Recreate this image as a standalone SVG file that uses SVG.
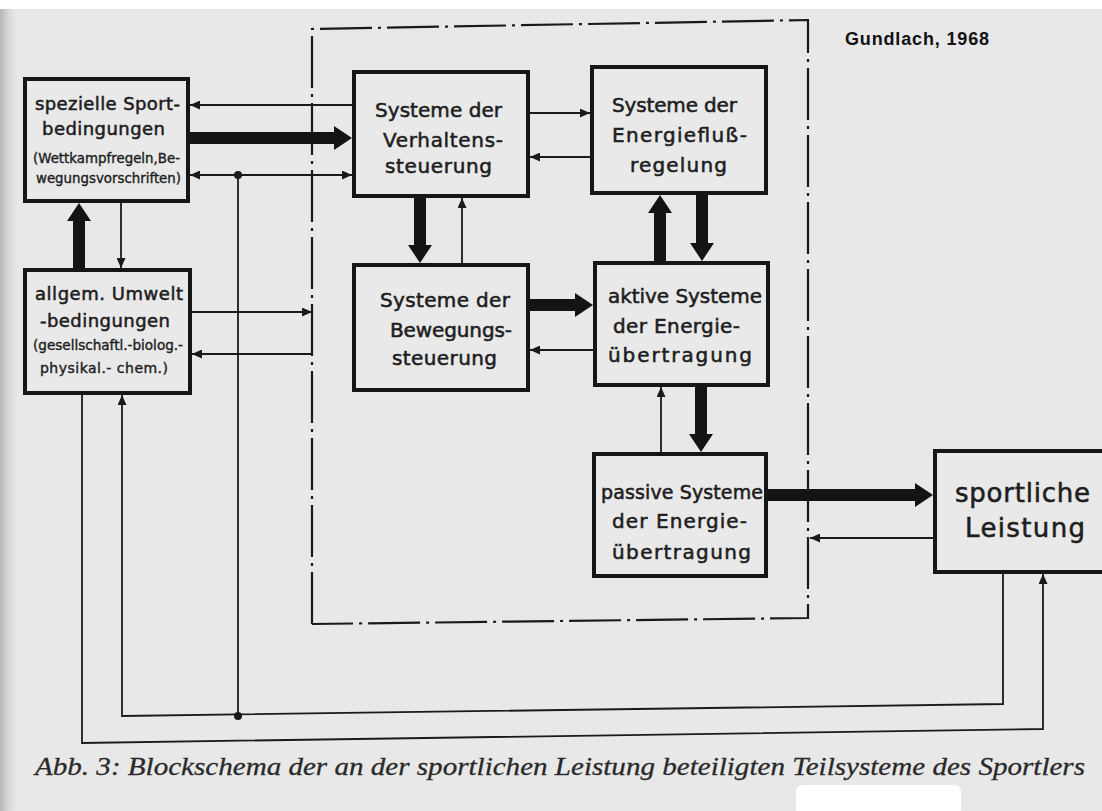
<svg xmlns="http://www.w3.org/2000/svg" width="1102" height="811" viewBox="0 0 1102 811">
  <defs>
    <linearGradient id="edge" x1="0" y1="0" x2="1" y2="0">
      <stop offset="0" stop-color="#b4b4b4"/>
      <stop offset="1" stop-color="#e8e8e8" stop-opacity="0"/>
    </linearGradient>
    <!-- small filled head for thin signal lines; tip sits on the line end -->
    <marker id="thinHead" viewBox="0 0 10 9" refX="10" refY="4.5" markerWidth="10" markerHeight="9" markerUnits="userSpaceOnUse" orient="auto-start-reverse">
      <path d="M0,0 L10,4.5 L0,9 Z" fill="#1a1a1a"/>
    </marker>
    <!-- large head for the energy/main flow arrows; tip 16px past the line end -->
    <marker id="thickHead" viewBox="0 0 18 24" refX="2" refY="12" markerWidth="18" markerHeight="24" markerUnits="userSpaceOnUse" orient="auto">
      <path d="M0,0 L18,12 L0,24 Z" fill="#141414"/>
    </marker>
  </defs>
  <style>
    .box { fill: #e9e9e9; stroke: #161616; stroke-width: 4; }
    .lbl { font-family: "DejaVu Sans", "Liberation Sans", sans-serif; fill: #1e1e1e; stroke: #1e1e1e; stroke-width: 0.55; }
    .f20 { font-size: 20px; }
    .f17 { font-size: 18px; }
    .f13 { font-size: 14px; stroke-width: 0.4; }
    .f26 { font-size: 26px; }
    .thin { fill: none; stroke: #1a1a1a; stroke-width: 1.8; marker-end: url(#thinHead); }
    .plain { fill: none; stroke: #1a1a1a; stroke-width: 1.8; }
    .thick { fill: none; stroke: #141414; stroke-width: 12; marker-end: url(#thickHead); }
    .frame { fill: none; stroke: #1a1a1a; stroke-width: 2.2; stroke-dasharray: 52 6 3 6; }
  </style>

  <!-- paper -->
  <rect x="0" y="0" width="1102" height="811" fill="#e8e8e8"/>
  <rect x="0" y="9" width="20" height="802" fill="url(#edge)"/>
  <rect x="0" y="0" width="1102" height="9" fill="#ffffff"/>
  <rect x="796" y="785" width="165" height="30" rx="6" fill="#ffffff"/>

  <!-- system boundary of the athlete -->
  <path class="frame" d="M312,624 V29 L808,20 V618 L312,624"/>

  <text x="845" y="45" font-family="Liberation Sans, Arial, sans-serif" font-weight="bold" font-size="18" fill="#111" textLength="144" lengthAdjust="spacing">Gundlach, 1968</text>

  <g id="connectors">
    <!-- top row / left column -->
    <path class="thin" d="M352,105 H190"/>
    <path class="thick" d="M190,138 H336"/>
    <path class="thin" d="M190,175 H352" style="marker-start:url(#thinHead)"/>
    <path class="thick" d="M79,268 V219"/>
    <path class="thin" d="M121,203 V268"/>
    <path class="thin" d="M192,312 H312"/>
    <path class="thin" d="M312,354 H192"/>
    <path class="thin" d="M530,113 H590"/>
    <path class="thin" d="M590,157 H530"/>
    <!-- middle row -->
    <path class="thick" d="M420,198 V247"/>
    <path class="thin" d="M462,263 V198"/>
    <path class="thick" d="M530,305 H577"/>
    <path class="thin" d="M593,350 H530"/>
    <path class="thick" d="M660,261 V211"/>
    <path class="thick" d="M702,195 V245"/>
    <!-- lower row -->
    <path class="thin" d="M661,452 V387"/>
    <path class="thick" d="M701,387 V436"/>
    <path class="thick" d="M768,495 H917"/>
    <path class="thin" d="M933,538 H810"/>
    <!-- feedback loops -->
    <path class="thin" d="M1003,574 V704 L122,716 V395"/>
    <path class="thin" d="M82,395 V743 L1043,729 V574"/>
    <path class="plain" d="M238,175 V716"/>
    <circle cx="238" cy="175" r="4" fill="#1a1a1a"/>
    <circle cx="238" cy="716" r="4" fill="#1a1a1a"/>
  </g>

  <g id="n-sportbedingungen">
    <rect class="box" x="25" y="79" width="163" height="122"/>
    <text class="lbl f17" x="35" y="110" textLength="145" lengthAdjust="spacing">spezielle Sport-</text>
    <text class="lbl f17" x="42" y="135" textLength="123" lengthAdjust="spacing">bedingungen</text>
    <text class="lbl f13" x="33" y="163" textLength="147" lengthAdjust="spacingAndGlyphs">(Wettkampfregeln,Be-</text>
    <text class="lbl f13" x="36" y="183" textLength="145" lengthAdjust="spacingAndGlyphs">wegungsvorschriften)</text>
  </g>

  <g id="n-umweltbedingungen">
    <rect class="box" x="25" y="270" width="165" height="123"/>
    <text class="lbl f17" x="35" y="300" textLength="148" lengthAdjust="spacing">allgem. Umwelt</text>
    <text class="lbl f17" x="40" y="327" textLength="130" lengthAdjust="spacing">-bedingungen</text>
    <text class="lbl f13" x="33" y="350" textLength="150" lengthAdjust="spacingAndGlyphs">(gesellschaftl.-biolog.-</text>
    <text class="lbl f13" x="40" y="373" textLength="128" lengthAdjust="spacing">physikal.- chem.)</text>
  </g>

  <g id="n-verhaltenssteuerung">
    <rect class="box" x="354" y="72" width="174" height="124"/>
    <text class="lbl f20" x="375" y="117" textLength="127" lengthAdjust="spacing">Systeme der</text>
    <text class="lbl f20" x="383" y="147" textLength="120" lengthAdjust="spacing">Verhaltens-</text>
    <text class="lbl f20" x="385" y="173" textLength="107" lengthAdjust="spacing">steuerung</text>
  </g>

  <g id="n-energieflussregelung">
    <rect class="box" x="592" y="67" width="174" height="126"/>
    <text class="lbl f20" x="612" y="112" textLength="125" lengthAdjust="spacing">Systeme der</text>
    <text class="lbl f20" x="612" y="142" textLength="135" lengthAdjust="spacing">Energiefluß-</text>
    <text class="lbl f20" x="630" y="172" textLength="97" lengthAdjust="spacing">regelung</text>
  </g>

  <g id="n-bewegungssteuerung">
    <rect class="box" x="354" y="265" width="174" height="125"/>
    <text class="lbl f20" x="380" y="307" textLength="130" lengthAdjust="spacing">Systeme der</text>
    <text class="lbl f20" x="390" y="337" textLength="122" lengthAdjust="spacing">Bewegungs-</text>
    <text class="lbl f20" x="392" y="365" textLength="105" lengthAdjust="spacing">steuerung</text>
  </g>

  <g id="n-aktive-energieuebertragung">
    <rect class="box" x="595" y="263" width="173" height="122"/>
    <text class="lbl f20" x="608" y="303" textLength="154" lengthAdjust="spacing">aktive Systeme</text>
    <text class="lbl f20" x="613" y="333" textLength="127" lengthAdjust="spacing">der Energie-</text>
    <text class="lbl f20" x="608" y="362" textLength="144" lengthAdjust="spacing">übertragung</text>
  </g>

  <g id="n-passive-energieuebertragung">
    <rect class="box" x="594" y="454" width="172" height="122"/>
    <text class="lbl" font-size="19" x="601" y="499" textLength="162" lengthAdjust="spacing">passive Systeme</text>
    <text class="lbl f20" x="612" y="528" textLength="135" lengthAdjust="spacing">der Energie-</text>
    <text class="lbl f20" x="612" y="559" textLength="139" lengthAdjust="spacing">übertragung</text>
  </g>

  <g id="n-sportliche-leistung">
    <rect class="box" x="935" y="451" width="200" height="121"/>
    <text class="lbl f26" x="955" y="502" textLength="135" lengthAdjust="spacing">sportliche</text>
    <text class="lbl f26" x="965" y="537" textLength="120" lengthAdjust="spacing">Leistung</text>
  </g>

  <text x="35" y="775" font-family="Liberation Serif, Times New Roman, serif" font-style="italic" font-size="26" fill="#2a2a2a" stroke="#2a2a2a" stroke-width="0.3" textLength="1050" lengthAdjust="spacingAndGlyphs">Abb. 3: Blockschema der an der sportlichen Leistung beteiligten Teilsysteme des Sportlers</text>
</svg>
